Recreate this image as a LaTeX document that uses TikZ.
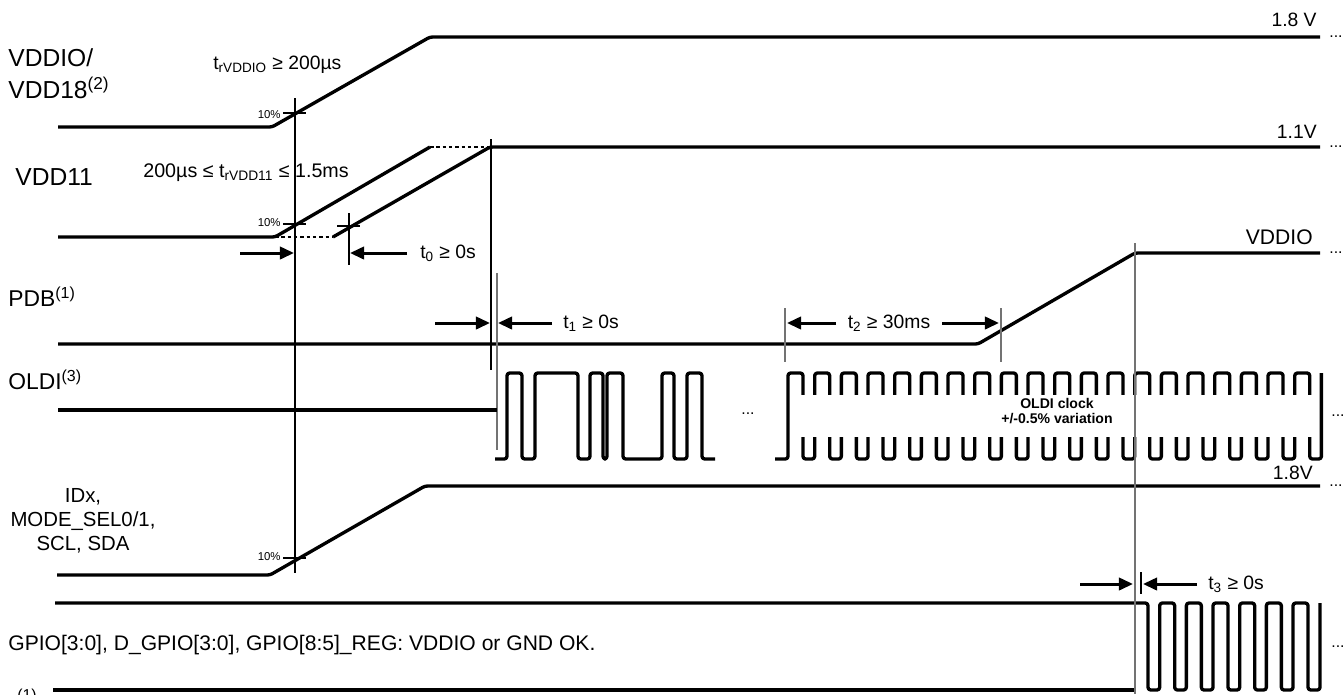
\documentclass[tikz,border=0pt]{standalone}
\usepackage{fontspec}
\setmainfont{Liberation Sans}
\usepackage{tikz}
\usetikzlibrary{arrows.meta}
\newcommand{\fsz}[2]{\fontsize{#1}{#2}\selectfont}
\tikzset{
  sig/.style={line width=1.9pt, rounded corners=1.5pt, line join=round},
  dsh/.style={line width=1.1pt, dash pattern=on 2pt off 1.6pt},
  guide/.style={line width=0.6pt},
  gguide/.style={line width=0.6pt, draw=black!55},
  dim/.style={line width=1.7pt, -{Triangle[length=8pt,width=7pt]}},
  signame/.style={font=\fsz{13}{15}, anchor=west},
  tval/.style={font=\fsz{11}{13}, anchor=west},
  pct/.style={font=\fsz{6.5}{8}, anchor=east},
  lvl/.style={font=\fsz{11}{13}, anchor=east},
  dotsr/.style={font=\fsz{9}{10}, anchor=west},
}

\begin{document}
\begin{tikzpicture}[x=0.02cm, y=-0.02cm, every node/.style={inner sep=0pt}]
  \useasboundingbox (0,0) rectangle (1343,694);
  % VDDIO / VDD18
  \node[signame, font=\fsz{14}{16}] (lVddio) at (8,58) {VDDIO/};
  \node[signame, font=\fsz{14}{16}] (lVdd18) at (8,88) {VDD18\textsuperscript{(2)}};
  \draw[sig] (58,127) -- (272,127) -- (430,37) -- (1320,37);
  \node[lvl] (v18) at (1317,20) {1.8 V};
  \node[dotsr] (d18) at (1329,37) {...};
  \node[tval] (tVddio) at (213,65) {t\textsubscript{rVDDIO} ≥ 200µs};
  \node[pct] (p18) at (281,115) {10\%};
  \draw[guide] (283,113) -- (306,113);
  % VDD11
  \node[signame, font=\fsz{14}{16}] (lVdd11) at (15,177) {VDD11};
  \draw[sig] (58,237) -- (275,237) -- (430,147);
  \draw[dsh] (430,147) -- (490,147);
  \draw[dsh] (275,237) -- (333,237);
  \draw[sig] (333,237) -- (490,147) -- (1320,147);
  \node[lvl] (v11) at (1317,132) {1.1V};
  \node[dotsr] (d11) at (1329,147) {...};
  \node[tval, font=\fsz{11.2}{13}] (tVdd11) at (143,173) {200µs ≤ t\textsubscript{rVDD11} ≤ 1.5ms};
  \node[pct] (p11) at (281,223) {10\%};
  \draw[guide] (283,224) -- (306,224);
  \draw[guide] (337,226) -- (360,226);
  \draw[guide] (349,213) -- (349,265);
  \draw[guide] (295,98) -- (295,573);
  \draw[guide] (491,139) -- (491,370);
  % t0
  \draw[dim] (240,253) -- (294,253);
  \draw[dim] (407,253) -- (350,253);
  \node[tval] (tZero) at (420,253) {t\textsubscript{0} ≥ 0s};
  % PDB
  \node[signame] (lPdb) at (8,297) {PDB\textsuperscript{(1)}};
  \draw[sig] (58,344) -- (978,344) -- (1135,253) -- (1320,253);
  \node[lvl, font=\fsz{12}{14}] (vPdb) at (1313,237) {VDDIO};
  \node[dotsr] (dPdb) at (1329,253) {...};
  % t1
  \draw[gguide] (497,273) -- (497,450);
  \draw[dim] (435,323) -- (490,323);
  \draw[dim] (552,323) -- (498,323);
  \node[tval] (tOne) at (563,323) {t\textsubscript{1} ≥ 0s};
  % t2
  \draw[gguide] (785,308) -- (785,362);
  \draw[gguide] (1001,308) -- (1001,362);
  \draw[dim] (836,323) -- (787,323);
  \draw[dim] (942,323) -- (999,323);
  \node[tval, anchor=center] (tTwo) at (889,323) {t\textsubscript{2} ≥ 30ms};
  % OLDI
  \node[signame] (lOldi) at (8,380) {OLDI\textsuperscript{(3)}};
  \draw[sig] (58,410) -- (497,410);
  \draw[sig] (495,459) -- (507,459) -- (507,373) -- (522,373) -- (522,459) -- (535,459)
    -- (535,373) -- (578,373) -- (578,459) -- (590,459) -- (590,373) -- (603,373)
    -- (603,459) -- (607,459) -- (607,373) -- (623,373) -- (623,459) -- (662,459)
    -- (662,373) -- (674,373) -- (674,459) -- (687,459) -- (687,373) -- (702,373)
    -- (702,459) -- (715,459);
  \node[font=\fsz{9}{10}] (dGap) at (748,414) {...};
  \draw[sig] (775,459) -- (788,459)
    \foreach \k in {0,...,19}{ -- ++(0,-86) -- ++(15,0) -- ++(0,86) -- ++(11.67,0) }
    -- ++(0,-86);
  \fill[white] (790,395) rectangle (1318,437);
  \node[font=\bfseries\fsz{8}{8.6}, align=center] (clk) at (1057,411) {OLDI clock\\+/-0.5\% variation};
  \node[dotsr] (dOldi) at (1331,416) {...};
  % IDx, MODE_SEL, SCL, SDA
  \node[font=\fsz{11.6}{13.6}, align=center] (lIdx) at (83,521) {IDx,\\MODE\_SEL0/1,\\SCL, SDA};
  \draw[sig] (57,575) -- (270,575) -- (425,486) -- (1320,486);
  \node[lvl] (v18b) at (1313,473) {1.8V};
  \node[dotsr] (dIdx) at (1329,486) {...};
  \node[pct] (pIdx) at (281,557) {10\%};
  \draw[guide] (283,558) -- (306,558);
  % GPIO
  \node[signame, font=\fsz{12}{14}] (lGpio) at (8,645) {GPIO[3:0], D\_GPIO[3:0], GPIO[8:5]\_REG: VDDIO or GND OK.};
  \draw[sig] (55,603) -- (1148,603) -- ++(0,87)
    \foreach \k in {1,...,6}{ -- ++(11.67,0) -- ++(0,-87) -- ++(15,0) -- ++(0,87) }
    -- ++(12,0) -- ++(0,-87);
  \draw[sig] (53,690) -- (1135,690);
  \node[dotsr] (dGpio) at (1331,647) {...};
  \node[font=\fsz{9}{10}, anchor=west] (fn) at (17,696) {(1)};
  % t3
  \draw[gguide] (1135,243) -- (1135,694);
  \draw[guide] (1141,572) -- (1141,594);
  \draw[dim] (1080,584) -- (1133,584);
  \draw[dim] (1197,584) -- (1143,584);
  \node[tval] (tThree) at (1208,584) {t\textsubscript{3} ≥ 0s};
\end{tikzpicture}
\end{document}
